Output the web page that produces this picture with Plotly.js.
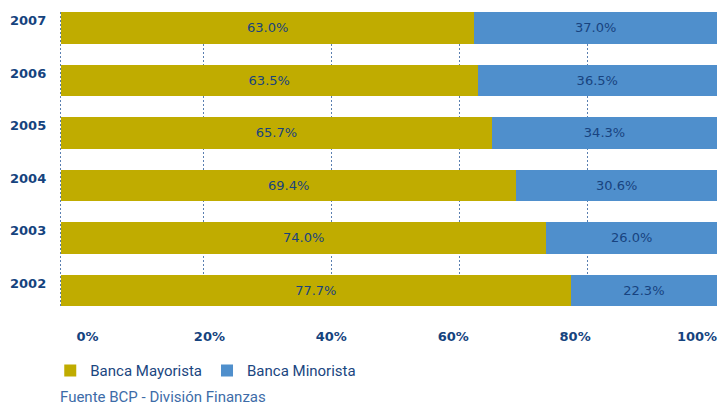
<!DOCTYPE html>
<html>
<head>
<meta charset="utf-8">
<script src="https://cdn.plot.ly/plotly-3.0.1.min.js"></script>
<style>html,body{margin:0;padding:0;background:#fff;}#chart{width:718px;height:407px;}</style>
</head>
<body>
<div id="chart"></div>
<script>
const years = ['2002', '2003', '2004', '2005', '2006', '2007'];
const mayorista = [77.7, 74.0, 69.4, 65.7, 63.5, 63.0];
const minorista = [22.3, 26.0, 30.6, 34.3, 36.5, 37.0];
const seriesNames = ['Banca Mayorista', 'Banca Minorista'];
const tickValues = [0, 20, 40, 60, 80, 100];
const tickLabels = ['0%', '20%', '40%', '60%', '80%', '100%'];
const sourceText = 'Fuente BCP - División Finanzas';

const DARK = '#15437e';
const barFont = {family: 'DejaVu Sans, Verdana, sans-serif', size: 13, color: '#18437f'};

const traces = [
  {type: 'bar', orientation: 'h', name: seriesNames[0], y: years, x: mayorista,
   marker: {color: '#c0ac00', line: {width: 0}},
   texttemplate: '%{x:.1f}%', textposition: 'inside', insidetextanchor: 'middle',
   insidetextfont: barFont, constraintext: 'none', hoverinfo: 'none'},
  {type: 'bar', orientation: 'h', name: seriesNames[1], y: years, x: minorista,
   marker: {color: '#4f8fcc', line: {width: 0}},
   texttemplate: '%{x:.1f}%', textposition: 'inside', insidetextanchor: 'middle',
   insidetextfont: barFont, constraintext: 'none', hoverinfo: 'none'},
  // helper (draws nothing) so the tick-label axis x2 is rendered
  {type: 'scatter', mode: 'none', x: tickValues, y: tickValues.map(() => years[0]),
   xaxis: 'x2', yaxis: 'y', showlegend: false, hoverinfo: 'skip'}
];

const annotations = years.map((y, i) => ({
  x: 0, xref: 'paper', xanchor: 'right', xshift: -11,
  y: i, yref: 'y', yanchor: 'middle', yshift: 7,
  text: y, showarrow: false,
  font: {family: 'DejaVu Sans, Verdana, sans-serif', size: 13, weight: 'bold', color: DARK}
}));
annotations.push({
  x: 0, xref: 'paper', xanchor: 'left', xshift: -1,
  y: -0.31, yref: 'paper', yanchor: 'middle',
  text: sourceText, showarrow: false,
  font: {family: 'Roboto, sans-serif', size: 15, color: '#3d6ca8'}
});

const layout = {
  width: 718, height: 407,
  margin: {l: 59, r: 1, t: 12, b: 101},
  paper_bgcolor: '#ffffff', plot_bgcolor: '#ffffff',
  barmode: 'stack', bargap: 0.4,
  showlegend: true,
  legend: {orientation: 'h', xref: 'container', yref: 'container',
    x: 0.070, xanchor: 'left', y: 0.089, yanchor: 'middle',
    font: {family: 'Roboto, sans-serif', size: 15, color: '#1a4680'},
    itemwidth: 30, traceorder: 'normal', bgcolor: 'rgba(0,0,0,0)'},
  xaxis: {range: [-0.3, 100], showticklabels: false, ticks: '',
    tickmode: 'array', tickvals: [0, 21.8, 41.3, 60.8, 80.3],
    showgrid: true, gridcolor: '#5a7fb0', gridwidth: 1, griddash: '2px,2px',
    zeroline: false, showline: false, fixedrange: true},
  xaxis2: {overlaying: 'x', anchor: 'y', side: 'bottom', range: [-4.68, 103.28],
    tickmode: 'array', tickvals: tickValues, ticktext: tickLabels,
    ticks: 'outside', ticklen: 18, tickcolor: 'rgba(0,0,0,0)',
    showgrid: false, zeroline: false, showline: false,
    tickfont: {family: 'DejaVu Sans, Verdana, sans-serif', size: 13, weight: 'bold', color: DARK}},
  yaxis: {type: 'category', categoryorder: 'array', categoryarray: years,
    range: [-0.3, 5.3], showticklabels: false, ticks: '',
    showgrid: false, zeroline: false, showline: false, fixedrange: true},
  annotations: annotations
};

Plotly.newPlot('chart', traces, layout, {displayModeBar: false, staticPlot: true});
</script>
</body>
</html>
